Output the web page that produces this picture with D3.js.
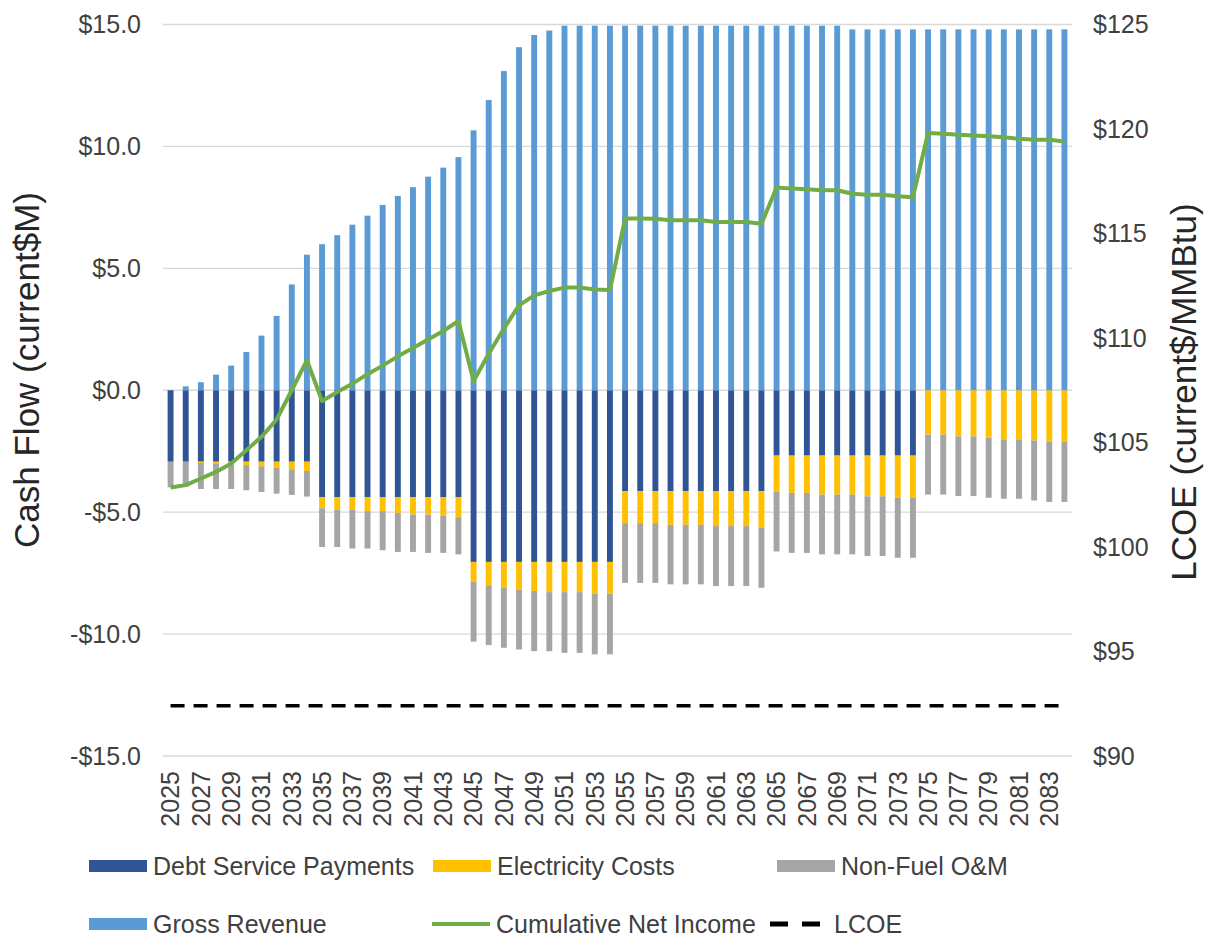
<!DOCTYPE html>
<html>
<head>
<meta charset="utf-8">
<script src="https://cdn.jsdelivr.net/npm/d3@7"></script>
<style>
  html, body { margin: 0; padding: 0; background: #fff; }
  svg { display: block; font-family: "Liberation Sans", Arial, sans-serif; }
</style>
</head>
<body>
<svg id="chart" width="1208" height="938"></svg>
<script>
// Project cash flow by year (current $M) with cumulative net income and LCOE
const years = [
  2025, 2026, 2027, 2028, 2029, 2030, 2031, 2032, 2033, 2034,
  2035, 2036, 2037, 2038, 2039, 2040, 2041, 2042, 2043, 2044,
  2045, 2046, 2047, 2048, 2049, 2050, 2051, 2052, 2053, 2054,
  2055, 2056, 2057, 2058, 2059, 2060, 2061, 2062, 2063, 2064,
  2065, 2066, 2067, 2068, 2069, 2070, 2071, 2072, 2073, 2074,
  2075, 2076, 2077, 2078, 2079, 2080, 2081, 2082, 2083, 2084
];

const debtService = [
  -2.93, -2.93, -2.93, -2.93, -2.93, -2.93, -2.93, -2.93, -2.93, -2.93,
  -4.39, -4.39, -4.39, -4.39, -4.39, -4.39, -4.39, -4.39, -4.39, -4.39,
  -7.04, -7.04, -7.04, -7.04, -7.04, -7.04, -7.04, -7.04, -7.04, -7.04,
  -4.14, -4.14, -4.14, -4.14, -4.14, -4.14, -4.14, -4.14, -4.14, -4.14,
  -2.68, -2.68, -2.68, -2.68, -2.68, -2.68, -2.68, -2.68, -2.68, -2.68,
  0, 0, 0, 0, 0, 0, 0, 0, 0, 0
];

const electricity = [
  0, 0, -0.05, -0.07, -0.10, -0.14, -0.19, -0.25, -0.31, -0.38,
  -0.45, -0.51, -0.52, -0.57, -0.57, -0.64, -0.71, -0.71, -0.75, -0.82,
  -0.82, -0.96, -1.07, -1.13, -1.19, -1.24, -1.24, -1.24, -1.31, -1.31,
  -1.31, -1.31, -1.31, -1.38, -1.38, -1.38, -1.43, -1.43, -1.43, -1.50,
  -1.48, -1.53, -1.53, -1.60, -1.60, -1.60, -1.67, -1.67, -1.73, -1.73,
  -1.82, -1.82, -1.89, -1.89, -1.95, -2.02, -2.02, -2.06, -2.12, -2.12
];

const nonFuelOM = [
  -1.05, -1.02, -1.07, -1.05, -1.02, -1.03, -1.05, -1.06, -1.05, -1.05,
  -1.59, -1.53, -1.58, -1.53, -1.60, -1.60, -1.53, -1.57, -1.53, -1.52,
  -2.45, -2.45, -2.45, -2.46, -2.47, -2.42, -2.49, -2.49, -2.48, -2.48,
  -2.45, -2.45, -2.45, -2.44, -2.44, -2.44, -2.46, -2.46, -2.46, -2.46,
  -2.45, -2.46, -2.46, -2.45, -2.45, -2.45, -2.45, -2.45, -2.46, -2.46,
  -2.46, -2.46, -2.45, -2.45, -2.46, -2.43, -2.43, -2.46, -2.46, -2.46
];

const grossRevenue = [
  0.00, 0.16, 0.33, 0.64, 1.01, 1.57, 2.24, 3.05, 4.34, 5.56,
  5.99, 6.36, 6.79, 7.16, 7.60, 7.97, 8.33, 8.76, 9.13, 9.56,
  10.66, 11.90, 13.09, 14.07, 14.57, 14.75, 14.95, 14.95, 14.95, 14.95,
  14.95, 14.95, 14.95, 14.95, 14.95, 14.95, 14.95, 14.95, 14.95, 14.95,
  14.95, 14.95, 14.95, 14.95, 14.95, 14.80, 14.80, 14.80, 14.80, 14.80,
  14.80, 14.80, 14.80, 14.80, 14.80, 14.80, 14.80, 14.80, 14.80, 14.80
];

const cumulativeNetIncome = [
  -3.99, -3.89, -3.62, -3.35, -3.00, -2.46, -1.91, -1.20, 0.00, 1.23,
  -0.44, -0.07, 0.27, 0.66, 1.01, 1.39, 1.73, 2.08, 2.43, 2.84,
  0.38, 1.50, 2.53, 3.48, 3.89, 4.07, 4.21, 4.21, 4.13, 4.11,
  7.04, 7.04, 7.03, 6.97, 6.97, 6.97, 6.90, 6.90, 6.90, 6.83,
  8.31, 8.27, 8.24, 8.20, 8.20, 8.06, 8.02, 8.02, 7.96, 7.92,
  10.55, 10.52, 10.48, 10.45, 10.42, 10.38, 10.31, 10.27, 10.27, 10.20
];

const lcoe = 92.4; // current$/MMBtu

const cashTicks = [-15, -10, -5, 0, 5, 10, 15];
const lcoeTicks = [90, 95, 100, 105, 110, 115, 120, 125];

const seriesNames = ["Debt Service Payments", "Electricity Costs", "Non-Fuel O&M", "Gross Revenue"];
const colors = {
  "Debt Service Payments": "#2F5597",
  "Electricity Costs": "#FFC000",
  "Non-Fuel O&M": "#A5A5A5",
  "Gross Revenue": "#5B9BD5",
  "Cumulative Net Income": "#70AD47",
  "LCOE": "#000000"
};

// Table for the stack layout
const rows = years.map((y, i) => ({
  year: y,
  "Debt Service Payments": debtService[i],
  "Electricity Costs": electricity[i],
  "Non-Fuel O&M": nonFuelOM[i],
  "Gross Revenue": grossRevenue[i]
}));

const svg = d3.select("#chart");
const plot = { left: 163, right: 1072, top: 24.5, bottom: 756 };
const textColor = "#404040";

const x = d3.scaleBand()
  .domain(years)
  .range([plot.left, plot.right])
  .paddingInner(0.61)
  .paddingOuter(0.305);

const y = d3.scaleLinear().domain([-15, 15]).range([plot.bottom, plot.top]);
const yRight = d3.scaleLinear().domain([90, 125]).range([plot.bottom, plot.top]);

// Horizontal gridlines
svg.append("g")
  .selectAll("line")
  .data(cashTicks)
  .join("line")
  .attr("x1", plot.left)
  .attr("x2", plot.right)
  .attr("y1", d => y(d))
  .attr("y2", d => y(d))
  .attr("stroke", "#D9D9D9")
  .attr("stroke-width", 1.3);

// Stacked bars (costs below zero, revenue above)
const stacked = d3.stack()
  .keys(seriesNames)
  .offset(d3.stackOffsetDiverging)(rows);

svg.append("g")
  .selectAll("g")
  .data(stacked)
  .join("g")
  .attr("fill", d => colors[d.key])
  .selectAll("rect")
  .data(d => d)
  .join("rect")
  .attr("x", d => x(d.data.year))
  .attr("width", x.bandwidth())
  .attr("y", d => y(Math.max(d[0], d[1])))
  .attr("height", d => Math.abs(y(d[0]) - y(d[1])));

// LCOE line on the right axis
const lcoeLine = d3.line()
  .x(d => x(d) + x.bandwidth() / 2)
  .y(() => yRight(lcoe));

svg.append("path")
  .datum([years[0], years[years.length - 1]])
  .attr("d", lcoeLine)
  .attr("fill", "none")
  .attr("stroke", colors["LCOE"])
  .attr("stroke-width", 3.5)
  .attr("stroke-dasharray", "14,9");

// Cumulative net income line
const netLine = d3.line()
  .x((d, i) => x(years[i]) + x.bandwidth() / 2)
  .y(d => y(d));

svg.append("path")
  .datum(cumulativeNetIncome)
  .attr("d", netLine)
  .attr("fill", "none")
  .attr("stroke", colors["Cumulative Net Income"])
  .attr("stroke-width", 4)
  .attr("stroke-linejoin", "round");

// Left axis
const fmtCash = d => (d < 0 ? "-$" : "$") + Math.abs(d).toFixed(1);
const leftAxis = svg.append("g")
  .attr("transform", `translate(${plot.left},0)`)
  .call(d3.axisLeft(y).tickValues(cashTicks).tickFormat(fmtCash).tickSize(0).tickPadding(22));
leftAxis.select(".domain").remove();
leftAxis.selectAll("text")
  .attr("font-size", 25)
  .attr("fill", textColor)
  .attr("font-family", "Liberation Sans, Arial, sans-serif");

// Right axis
const rightAxis = svg.append("g")
  .attr("transform", `translate(${plot.right},0)`)
  .call(d3.axisRight(yRight).tickValues(lcoeTicks).tickFormat(d => "$" + d).tickSize(0).tickPadding(21));
rightAxis.select(".domain").remove();
rightAxis.selectAll("text")
  .attr("font-size", 25)
  .attr("fill", textColor)
  .attr("font-family", "Liberation Sans, Arial, sans-serif");

// Bottom axis: every other year, rotated
const bottomAxis = svg.append("g")
  .attr("transform", `translate(0,${plot.bottom})`)
  .call(d3.axisBottom(x).tickValues(years.filter((d, i) => i % 2 === 0)).tickSize(0).tickPadding(0));
bottomAxis.select(".domain").remove();
bottomAxis.selectAll("text")
  .attr("font-size", 25)
  .attr("fill", textColor)
  .attr("font-family", "Liberation Sans, Arial, sans-serif")
  .attr("text-anchor", "end")
  .attr("transform", "translate(0,15) rotate(-90)")
  .attr("x", 0)
  .attr("y", 0)
  .attr("dy", "0.35em");

// Axis titles
svg.append("text")
  .attr("transform", "translate(27,370) rotate(-90)")
  .attr("text-anchor", "middle")
  .attr("dy", "0.35em")
  .attr("font-size", 35)
  .attr("fill", "#262626")
  .text("Cash Flow (current$M)");

svg.append("text")
  .attr("transform", "translate(1184,392) rotate(-90)")
  .attr("text-anchor", "middle")
  .attr("dy", "0.35em")
  .attr("font-size", 35)
  .attr("fill", "#262626")
  .text("LCOE (current$/MMBtu)");

// Legend
const legendItems = [
  { name: "Debt Service Payments", type: "rect", x: 89, y: 866 },
  { name: "Electricity Costs", type: "rect", x: 433, y: 866 },
  { name: "Non-Fuel O&M", type: "rect", x: 777, y: 866 },
  { name: "Gross Revenue", type: "rect", x: 89, y: 924 },
  { name: "Cumulative Net Income", type: "line", x: 432, y: 924 },
  { name: "LCOE", type: "dash", x: 770, y: 924 }
];

const legend = svg.append("g");
legendItems.forEach(item => {
  const g = legend.append("g");
  if (item.type === "rect") {
    g.append("rect")
      .attr("x", item.x).attr("y", item.y - 6)
      .attr("width", 58).attr("height", 12)
      .attr("fill", colors[item.name]);
  } else {
    g.append("line")
      .attr("x1", item.x).attr("x2", item.x + 58)
      .attr("y1", item.y).attr("y2", item.y)
      .attr("stroke", colors[item.name])
      .attr("stroke-width", item.type === "dash" ? 5 : 4)
      .attr("stroke-dasharray", item.type === "dash" ? "18,14" : null);
  }
  g.append("text")
    .attr("x", item.x + 64)
    .attr("y", item.y)
    .attr("dy", "0.35em")
    .attr("font-size", 25)
    .attr("fill", textColor)
    .text(item.name);
});
</script>
</body>
</html>
